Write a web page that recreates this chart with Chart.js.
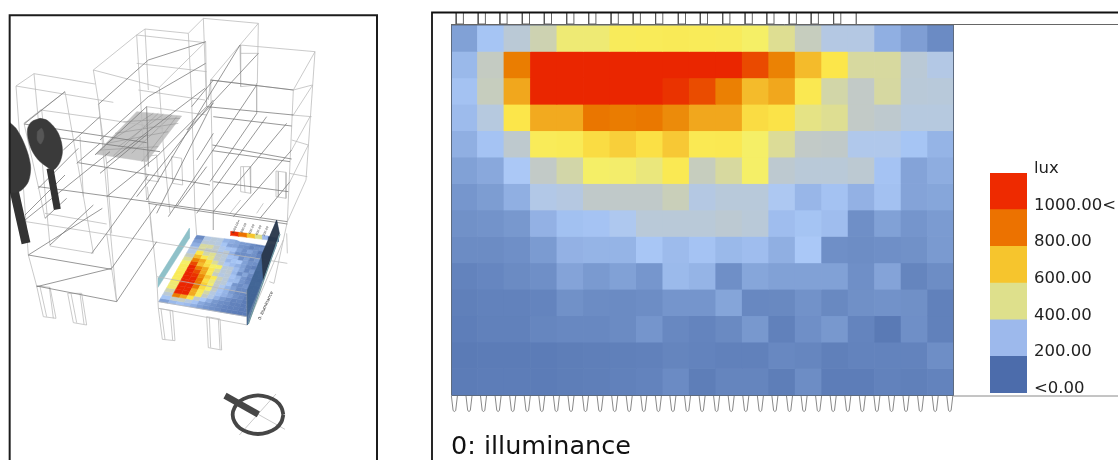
<!DOCTYPE html>
<html>
<head>
<meta charset="utf-8">
<script src="https://cdn.jsdelivr.net/npm/chart.js@4"></script>
<style>
html,body{margin:0;padding:0;background:#fff;width:1118px;height:460px;overflow:hidden}
canvas{position:absolute;display:block}
</style>
</head>
<body>
<canvas id="scene" width="390" height="460" style="left:0;top:0;filter:blur(0.35px)"></canvas>
<canvas id="heat" width="503" height="438" style="left:451px;top:25px"></canvas>
<canvas id="key" width="128" height="260" style="left:990px;top:150px"></canvas>
<canvas id="frame" width="1118" height="460" style="left:0;top:0"></canvas>
<script>
/* ---------- heat map values (lux), top row first ---------- */
const columns = ['1','2','3','4','5','6','7','8','9','10','11','12','13','14','15','16','17','18','19'];
const row01 = [140,215,300,360,430,430,490,500,505,500,490,450,395,345,270,270,170,135,90];
const row02 = [190,340,770,1000,1000,1000,1000,1000,1000,1000,1000,890,755,620,555,380,380,300,265];
const row03 = [210,345,650,1000,1000,1000,1000,1000,960,885,760,620,650,530,370,335,378,295,290];
const row04 = [195,280,555,645,645,790,775,785,725,650,650,570,560,410,395,335,320,280,280];
const row05 = [170,212,320,500,510,570,590,565,600,520,525,445,390,335,330,250,250,215,180];
const row06 = [140,155,225,335,370,445,440,420,520,345,380,445,315,295,295,310,212,145,165];
const row07 = [118,132,170,260,275,330,330,330,350,270,290,290,235,185,210,175,208,145,150];
const row08 = [105,110,122,175,207,212,240,295,295,295,310,295,200,213,200,100,140,115,128];
const row09 = [92,92,100,128,175,180,180,218,195,212,190,200,170,222,100,95,100,105,125];
const row10 = [68,76,88,100,145,125,140,118,192,180,100,150,140,140,140,100,145,72,95];
const row11 = [58,64,64,70,105,92,88,95,115,115,148,80,82,108,82,102,108,102,60];
const row12 = [54,60,60,74,80,80,88,116,80,70,85,122,60,100,122,70,42,100,60];
const row13 = [44,48,48,48,52,55,58,62,72,66,62,62,80,75,58,68,68,66,98];
const row14 = [46,50,50,48,52,55,60,66,90,52,72,72,52,95,50,50,64,58,68];
const rows = [row01,row02,row03,row04,row05,row06,row07,row08,row09,row10,row11,row12,row13,row14];

/* ---------- colour key ---------- */
const keyLabels = ['<0.00','200.00','400.00','600.00','800.00','1000.00<','lux'];
const keyTicks  = [0.12,1.12,2.12,3.12,4.12,5.12,6.12];
const keyColors = ['#4c6cab','#9db9ec','#dee08c','#f6c52d','#ec7200','#ee2a00'];
const luxStops  = [[75,107,169],[115,147,202],[170,200,247],[193,201,200],[245,239,103],
                   [252,230,74],[239,156,21],[234,123,0],[234,74,0],[234,38,0]];
const luxMax = 1000;
const titleText = '0: illuminance';

/* ---------- frame details, page pixels ---------- */
const topTickX = [456.2,478.2,499.9,522.3,544.3,566.7,588.7,611.1,633.2,655.6,678.3,700.3,722.7,745.1,766.8,789.2,811.2,833.6];
const wedgeX = [454.4,469,483.5,498.1,512.7,527.3,541.8,556.4,571,585.5,600.1,614.7,629.2,643.8,658.4,672.9,687.5,702.1,716.6,731.2,745.8,760.4,774.9,789.5,804.1,818.6,833.2,847.8,862.3,876.9,891.5,906,920.6,935.2,949.8];

/* ---------- 3D view, in units of a third of a pixel ---------- */
const lightWires = [
 [48,258,102,221,285,252],[48,258,340,307],[48,258,85,765,110,858],[102,221,150,738],[195,275,280,758],
 [195,275,72,370],[72,370,122,330,300,355],[280,210,297,315,350,905],[335,805,350,905],
 [280,210,410,105,435,87,565,100,610,55,775,70,720,135],[410,105,615,128],[280,210,478,262,617,125],
 [410,105,420,270],[435,87,445,270],[565,100,575,300],[610,55,620,320],[775,70,772,250],[478,262,490,440],
 [617,125,620,320],[720,135,945,155,880,270,632,240,720,135],[945,155,918,540,862,665],[880,270,862,665],
 [938,255,880,345],[930,350,875,450],[925,435,870,545],[720,135,722,260],[632,240,640,635],
 [937,255,880,270],[935,350,875,345],[925,435,875,420],[922,530,868,520],
 [110,858,150,862,168,955,130,950,110,858],[120,860,140,950],[148,862,160,955],
 [203,880,245,880,260,975,220,968,203,880],[213,880,230,968],[240,880,252,972],
 [475,925,518,932,525,1022,487,1018,475,925],[483,927,495,1018],[510,932,518,1020],
 [620,950,660,957,665,1050,625,1043,620,950],[628,952,632,1043],[655,957,660,1048],
 [722,500,750,500,752,580,722,575,722,500],[730,500,735,577],
 [828,513,858,517,858,595,828,590,828,513],[835,515,835,590],
 [432,470,470,465,475,545,440,540,432,470],[515,470,545,475,548,555,518,550,515,470],
 [442,560,470,830,475,925],[450,650,458,725],[585,640,590,705],[640,635,640,690],[862,665,822,850,808,845],
 [476,925,742,975],[476,905,742,950],[742,975,850,720],[470,830,742,880],[742,870,742,975],
 [458,725,862,790],[860,700,862,760],[490,440,510,640],[575,300,585,640],[420,270,440,600],
 [770,250,770,340],[295,313,320,490],[320,490,335,700],[320,700,335,805],[240,410,250,590],
 [135,640,320,672],[150,738,280,760],[78,665,460,725],[410,190,620,215],[415,270,615,300],
 [125,330,150,540],[72,370,115,560],[115,560,135,655],[300,355,490,385],[440,320,620,345],
 [720,160,775,160],[722,260,770,255],[632,240,625,300],[690,640,722,600],[770,640,790,610]
];
const darkWires = [
 [72,372,440,428],[150,410,480,455],[235,488,630,555],[115,560,445,605,862,665],[85,765,335,808],[110,858,350,905],
 [75,645,195,525],[85,765,307,625],[110,860,335,805],[335,805,470,615],[350,905,470,725],[150,735,280,615],
 [275,760,320,700,445,525],[135,655,200,595],[295,313,445,180,617,125],[300,420,445,290,617,190],[320,490,450,390,615,265],
 [320,590,470,470,620,320],[440,600,610,315,720,135],[470,640,640,305,775,160],[505,650,770,255],[590,640,800,350],
 [640,635,860,370],[700,650,875,450],[780,655,870,545],[640,350,875,378],[620,320,880,345],[637,435,875,477],
 [637,452,870,485],[640,545,865,575],[632,240,880,270],[590,480,640,400],[285,465,440,320],[440,320,445,500],
 [410,590,640,300],[530,620,620,500],[300,520,445,400],[230,490,300,430],[75,370,195,275],[445,610,862,672],
 [75,660,330,455],[115,565,235,445],[190,450,300,350],[575,320,640,240],[560,390,640,310],[630,545,770,340]
];
const floorPatch = [287,462,410,335,545,348,440,485];
const floorGrid = [[320,430,460,340],[355,440,490,343],[395,460,515,346],[345,400,535,370],[320,430,505,395],[300,450,475,440],
                   [370,365,540,355],[425,485,530,350],[340,468,475,340]];
const tree1Crown = [30,368,48,385,68,420,85,465,92,505,85,545,65,570,45,578,30,575];
const tree2Crown = [120,355,140,360,160,378,175,400,185,430,187,460,178,490,160,510,140,500,115,480,95,450,84,415,83,385,95,365];
const tree2Glow = [112,395,125,385,132,410,122,432,112,420];
const tree1Trunk = [42,570,78,730];
const tree2Trunk = [150,505,172,628];
const windowStrip = [474,835,568,685,568,715,474,862];
const meshBackLeft = [590,706], meshFrontLeft = [476,905], meshBackRight = [830,735], meshFrontRight = [742,950];
const meshRowWarp = 0.85;
const keyBacking = [690,708,810,722,805,738,720,724];
const miniKey = [[692,694,716,697,716,709,690,706],[716,697,741,700,741,712,716,709],[741,700,765,703,765,715,741,712],
                 [765,703,787,706,787,718,765,715],[787,706,805,708,805,720,787,718]];
const miniKeyColors = ['#ee2a00','#ec7200','#f6c52d','#dee08c','#9db9ec'];
const navyBlock = [805,710,835,715,835,725,805,722];
const wallFront = [742,870,742,975,838,700,830,660];
const wallBack = [785,765,790,840,838,700,830,660];
const wallEdge = [745,972,840,702];
const compassRing = [850,1244,844,1266,828,1285,803,1297,774,1302,745,1297,720,1285,704,1266,698,1244,704,1222,720,1203,745,1191,774,1186,803,1191,828,1203,844,1222,850,1244];
const compassNeedle = [675,1187,775,1243];
const compassCross = [[718,1305,828,1182],[680,1190,855,1288]];
const panelFrame = [29,1380,29,46,1131,46,1131,1380];

/* ---------- helpers ---------- */
function luxColor(v){
  const t = Math.min(Math.max(v/luxMax,0),1)*(luxStops.length-1);
  const i = Math.min(Math.floor(t),luxStops.length-2), f = t-i;
  const c = luxStops[i].map((a,k)=>Math.round(a+(luxStops[i+1][k]-a)*f));
  return 'rgb('+c.join(',')+')';
}
function pts(flat){const o=[];for(let i=0;i<flat.length;i+=2)o.push({x:flat[i],y:flat[i+1]});return o;}
const base = {showLine:true,tension:0,pointRadius:0,pointHoverRadius:0,fill:false};
function line(flat,color,width,tension){return Object.assign({},base,{data:pts(flat),borderColor:color,borderWidth:width,tension:tension||0});}
function poly(flat,color,edge,width,tension){
  const closed = flat.concat(flat.slice(0,2));
  return Object.assign({},base,{data:pts(closed),borderColor:edge||color,borderWidth:width===undefined?0.5:width,backgroundColor:color,fill:'shape',tension:tension||0});
}
function mix(a,b,t){return [a[0]+(b[0]-a[0])*t,a[1]+(b[1]-a[1])*t];}
function meshPoint(u,v){return mix(mix(meshFrontLeft,meshBackLeft,u),mix(meshFrontRight,meshBackRight,u),Math.pow(v,meshRowWarp));}
function blankAxes(minX,maxX,maxY){
  return {x:{type:'linear',display:false,min:minX,max:maxX},y:{type:'linear',display:false,min:0,max:maxY,reverse:true}};
}
const noExtras = {legend:{display:false},tooltip:{enabled:false},title:{display:false}};
Chart.defaults.animation = false;
Chart.defaults.font.family = "'DejaVu Sans'";

/* ---------- left panel: the 3D view ---------- */
const layers = [];
rows.forEach((row,r)=>row.forEach((v,c)=>{
  const a=meshPoint(c/19,r/14),b=meshPoint((c+1)/19,r/14),d=meshPoint((c+1)/19,(r+1)/14),e=meshPoint(c/19,(r+1)/14);
  layers.push(poly([a[0],a[1],b[0],b[1],d[0],d[1],e[0],e[1]],luxColor(v)));
}));
layers.push(poly(keyBacking,'#ffffff'));
miniKey.forEach((q,i)=>layers.push(poly(q,miniKeyColors[i])));
layers.push(poly(navyBlock,'#2c4a80'));
layers.push(poly(windowStrip,'#8fc1c9'));
layers.push(poly(floorPatch,'#c4c4c4'));
floorGrid.forEach(s=>layers.push(line(s,'#8c8c8c',0.5)));
lightWires.forEach(s=>layers.push(line(s,'#b8b8b8',0.75)));
darkWires.forEach(s=>layers.push(line(s,'#767676',0.75)));
layers.push(poly(wallFront,'rgba(58,94,140,0.8)'));
layers.push(poly(wallBack,'rgba(38,48,62,0.8)'));
layers.push(line(wallEdge,'#6f98a0',1.2));
layers.push(line(tree1Trunk,'#333333',9));
layers.push(line(tree2Trunk,'#333333',7));
layers.push(poly(tree1Crown,'#383838','#383838',0.5,0.3));
layers.push(poly(tree2Crown,'#3a3a3a','#3a3a3a',0.5,0.3));
layers.push(poly(tree2Glow,'#565656','#565656',0.5,0.3));
compassCross.forEach(s=>layers.push(line(s,'#bdbdbd',0.8)));
layers.push(line(compassRing,'#464646',3.8,0.4));
layers.push(line(compassNeedle,'#464646',6.5));
layers.push(line(panelFrame,'#1c1c1c',2));

new Chart(document.getElementById('scene'),{
  type:'scatter',
  data:{datasets:layers.reverse()},
  options:{responsive:false,parsing:false,normalized:true,layout:{padding:0},scales:blankAxes(0,1170,1380),plugins:noExtras},
  plugins:[{id:'tinyText',afterDatasetsDraw(chart){
    const g=chart.ctx,sx=chart.scales.x,sy=chart.scales.y;
    g.save();g.fillStyle='#333';g.textAlign='center';g.textBaseline='middle';
    const put=(t,x,y,size)=>{g.save();g.translate(sx.getPixelForValue(x),sy.getPixelForValue(y));g.rotate(-66*Math.PI/180);
      g.font=size+"px 'DejaVu Sans'";g.fillText(t,0,0);g.restore();};
    put(titleText,797,917,4.4);
    [['1000.00<',708,680],['800.00',731,684],['600.00',755,688],['400.00',776,691],['200.00',797,694]].forEach(k=>put(k[0],k[1],k[2],3));
    g.restore();
  }}]
});

/* ---------- right panel: the heat map, stacked cells ---------- */
new Chart(document.getElementById('heat'),{
  type:'bar',
  data:{labels:columns,datasets:rows.map(row=>({
    data:row.map(()=>1),
    luxValues:row,
    backgroundColor:row.map(luxColor),
    borderWidth:0,barPercentage:1,categoryPercentage:1
  }))},
  options:{responsive:false,layout:{padding:0},
    scales:{x:{display:false,stacked:true},y:{display:false,stacked:true,min:0,max:rows.length,reverse:true}},
    plugins:{legend:{display:false},tooltip:{enabled:false},
      title:{display:true,text:titleText,position:'bottom',align:'start',color:'#111',
        font:{size:25.5,weight:'normal',family:"'DejaVu Sans'"},padding:{top:37.4,bottom:0}}}}
});

/* ---------- colour key ---------- */
new Chart(document.getElementById('key'),{
  type:'bar',
  data:{labels:['lux'],datasets:keyColors.map(c=>({data:[1],backgroundColor:c,borderWidth:0,barPercentage:1,categoryPercentage:1}))},
  options:{responsive:false,layout:{padding:{top:23,bottom:15,left:0,right:0}},
    scales:{
      x:{display:false,stacked:true},
      y:{position:'right',stacked:true,min:0,max:6,
        grid:{display:false,drawTicks:false},border:{display:false},
        afterBuildTicks(a){a.ticks=keyTicks.map(v=>({value:v}));},
        afterFit(a){a.width=91;},
        ticks:{padding:7,color:'#222',autoSkip:false,font:{size:16.5,family:"'DejaVu Sans'"},maxRotation:0,minRotation:0,
          callback:(v,i)=>keyLabels[i]}}
    },
    plugins:noExtras}
});

/* ---------- right panel: frame, plates and sensor pins ---------- */
const frameSets = [];
frameSets.push(line([432,460,432,12.5,1118,12.5],'#111111',1.8));
frameSets.push(line([451,24.5,1118,24.5],'#666666',1));
frameSets.push(line([953.5,396,1118,396],'#8a8a8a',1));
frameSets.push(line([451.5,25,953.5,25,953.5,395.5,451.5,395.5,451.5,25],'#5d6b80',1));
topTickX.forEach(x=>frameSets.push(line([x,13,x,24,x+7.2,24,x+7.2,13],'#555555',0.9)));
frameSets.push(line([856.3,13,856.3,24],'#777777',0.9));
wedgeX.forEach(x=>frameSets.push(line([x-3,396,x-1.3,410.5,x,411.5,x+1.3,410.5,x+3,396],'#7a7a7a',0.9)));
new Chart(document.getElementById('frame'),{
  type:'scatter',
  data:{datasets:frameSets},
  options:{responsive:false,parsing:false,normalized:true,layout:{padding:0},scales:blankAxes(0,1118,460),plugins:noExtras}
});
</script>
</body>
</html>
